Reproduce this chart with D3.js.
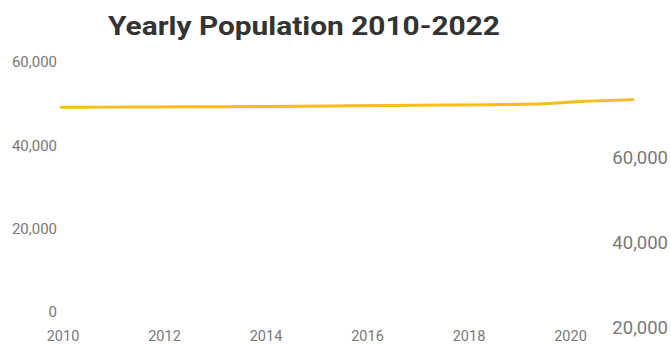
<!DOCTYPE html>
<html>
<head>
<meta charset="utf-8">
<script src="https://cdn.jsdelivr.net/npm/d3@7"></script>
<style>
  html, body { margin: 0; padding: 0; background: #fff; }
  svg { display: block; }
  .axis text { fill: #787878; font-family: Roboto, "Open Sans", sans-serif; }
  .axis .domain, .axis line { display: none; }
</style>
</head>
<body>
<svg id="chart" width="671" height="347"></svg>
<script>
// Yearly population, 2010-2022
const years = [2010, 2011, 2012, 2013, 2014, 2015, 2016, 2017, 2018, 2019, 2020, 2021, 2022];
const population = [49000, 49050, 49100, 49150, 49200, 49270, 49360, 49450, 49540, 49640, 49780, 50450, 50850];

const leftTicks = [0, 20000, 40000, 60000];
const rightTicks = [20000, 40000, 60000];
const yearTicks = [2010, 2012, 2014, 2016, 2018, 2020];
const title = "Yearly Population 2010-2022";

const svg = d3.select("#chart");

// scales
const xLine = d3.scaleLinear().domain([2010, 2022]).range([61, 633]);
const xAxisScale = d3.scaleLinear().domain([2010, 2022]).range([62.5, 671.5]);
const yLeft = d3.scaleLinear().domain([0, 60000]).range([311.5, 61.5]);
const yRight = d3.scaleLinear().domain([0, 60000]).range([411.5, 157.5]);

// title
svg.append("text")
  .attr("x", 108)
  .attr("y", 35)
  .attr("fill", "#333")
  .attr("font-family", "Roboto, 'Open Sans', sans-serif")
  .attr("font-weight", 700)
  .attr("font-size", 26)
  .attr("textLength", 392)
  .attr("lengthAdjust", "spacingAndGlyphs")
  .text(title);

// left value axis
const gLeft = svg.append("g").attr("class", "axis")
  .attr("transform", "translate(57,0)")
  .call(d3.axisLeft(yLeft).tickValues(leftTicks).tickFormat(d3.format(",")).tickSize(0).tickPadding(0));
gLeft.selectAll("text").attr("font-size", 15).attr("dy", "0.35em");

// right value axis
const gRight = svg.append("g").attr("class", "axis")
  .attr("transform", "translate(668,0)")
  .call(d3.axisRight(yRight).tickValues(rightTicks).tickFormat(d3.format(",")).tickSize(0).tickPadding(0));
gRight.selectAll("text").attr("font-size", 18.5).attr("text-anchor", "end").attr("dy", "0.35em");

// year axis
const gX = svg.append("g").attr("class", "axis")
  .attr("transform", "translate(0,336)")
  .call(d3.axisBottom(xAxisScale).tickValues(yearTicks).tickFormat(d3.format("d")).tickSize(0).tickPadding(0));
gX.selectAll("text").attr("font-size", 14.5).attr("dy", "0.35em");

// population line
const line = d3.line()
  .x((d, i) => xLine(years[i]))
  .y(d => yLeft(d))
  .curve(d3.curveMonotoneX);

svg.append("path")
  .datum(population)
  .attr("fill", "none")
  .attr("stroke", "#f8bc1c")
  .attr("stroke-width", 3)
  .attr("stroke-linecap", "round")
  .attr("d", line);
</script>
</body>
</html>
